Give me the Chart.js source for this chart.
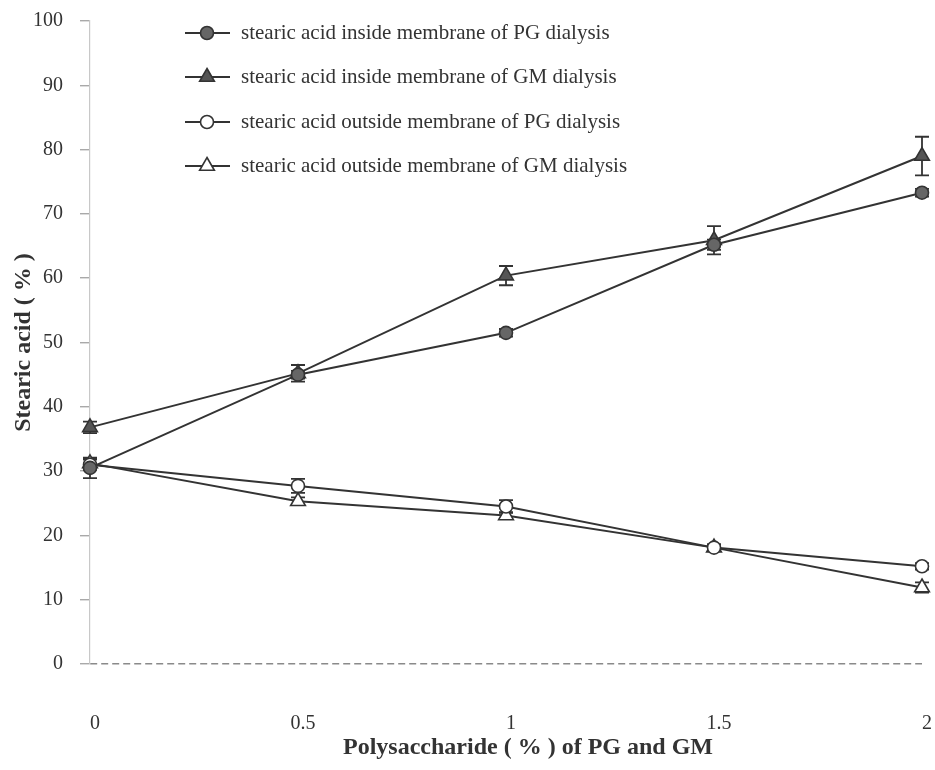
<!DOCTYPE html>
<html>
<head>
<meta charset="utf-8">
<script src="https://cdn.jsdelivr.net/npm/chart.js@4/dist/chart.umd.min.js"></script>
<style>
  html, body { margin: 0; padding: 0; background: #fff; overflow: hidden; }
  #wrap { width: 935px; height: 770px; position: relative; }
  canvas { display: block; }
</style>
</head>
<body>
<div id="wrap"><canvas id="c"></canvas></div>
<script>
// Polysaccharide concentration (%) on the x axis
const concentrations = [0, 0.5, 1, 1.5, 2];
const xTickLabels = ['0', '0.5', '1', '1.5', '2'];

// Stearic acid (%) per series, with standard deviation
const pgInside     = [30.5, 45.0, 51.5, 65.2, 73.3];
const pgInsideErr  = [1.6, 0.6, 0.6, 0.8, 0.6];
const gmInside     = [36.8, 45.2, 60.4, 65.9, 79.0];
const gmInsideErr  = [0.9, 1.3, 1.5, 2.2, 3.0];
const pgOutside    = [31.0, 27.7, 24.5, 18.1, 15.2];
const pgOutsideErr = [0.8, 1.1, 1.0, 0.5, 0.5];
const gmOutside    = [31.2, 25.3, 23.1, 18.1, 11.9];
const gmOutsideErr = [0.8, 0.6, 0.5, 0.5, 0.8];

const seriesNames = [
  'stearic acid inside membrane of PG dialysis',
  'stearic acid inside membrane of GM dialysis',
  'stearic acid outside membrane of PG dialysis',
  'stearic acid outside membrane of GM dialysis'
];
const xTitle = 'Polysaccharide ( % ) of PG and GM';
const yTitle = 'Stearic acid ( % )';

const SERIF = '"Liberation Serif", "Times New Roman", serif';
const INK = '#333333';

function points(values) {
  return concentrations.map((x, i) => ({ x: x, y: values[i] }));
}

function makeSet(label, values, errors, style, fill, radius) {
  return {
    label: label,
    data: points(values),
    errors: errors,
    borderColor: INK,
    borderWidth: 2,
    tension: 0,
    clip: false,
    pointStyle: style,
    pointRadius: radius,
    pointHoverRadius: radius,
    pointBackgroundColor: fill,
    pointBorderColor: INK,
    pointBorderWidth: 1.6
  };
}

const datasets = [
  makeSet(seriesNames[0], pgInside, pgInsideErr, 'circle', '#666666', 6.5),
  makeSet(seriesNames[1], gmInside, gmInsideErr, 'triangle', '#555555', 8.5),
  makeSet(seriesNames[2], pgOutside, pgOutsideErr, 'circle', '#ffffff', 6.5),
  makeSet(seriesNames[3], gmOutside, gmOutsideErr, 'triangle', '#ffffff', 8.5)
];

// Vertical error bars with caps, drawn beneath the markers
const errorBars = {
  id: 'errorBars',
  beforeDatasetsDraw(chart) {
    const { ctx, scales: { x, y } } = chart;
    ctx.save();
    ctx.strokeStyle = INK;
    ctx.lineWidth = 1.8;
    chart.data.datasets.forEach(ds => {
      ds.data.forEach((p, i) => {
        const e = ds.errors[i];
        const px = x.getPixelForValue(p.x);
        const top = y.getPixelForValue(p.y + e);
        const bot = y.getPixelForValue(p.y - e);
        const cap = 7;
        ctx.beginPath();
        ctx.moveTo(px, top); ctx.lineTo(px, bot);
        ctx.moveTo(px - cap, top); ctx.lineTo(px + cap, top);
        ctx.moveTo(px - cap, bot); ctx.lineTo(px + cap, bot);
        ctx.stroke();
      });
    });
    ctx.restore();
  }
};

function marker(ctx, style, cx, cy, r) {
  ctx.beginPath();
  if (style === 'circle') {
    ctx.arc(cx, cy, r, 0, Math.PI * 2);
  } else {
    let a = 0;
    ctx.moveTo(cx + Math.sin(a) * r, cy - Math.cos(a) * r);
    a += Math.PI * 2 / 3;
    ctx.lineTo(cx + Math.sin(a) * r, cy - Math.cos(a) * r);
    a += Math.PI * 2 / 3;
    ctx.lineTo(cx + Math.sin(a) * r, cy - Math.cos(a) * r);
    ctx.closePath();
  }
}

// Line-and-marker legend in the upper left of the plot, plus the x axis title
const lineLegend = {
  id: 'lineLegend',
  afterDraw(chart) {
    const ctx = chart.ctx;
    const rows = [33, 77, 122, 166];
    ctx.save();
    chart.data.datasets.forEach((ds, i) => {
      const yy = rows[i];
      ctx.strokeStyle = INK;
      ctx.lineWidth = 2;
      ctx.beginPath();
      ctx.moveTo(185, yy); ctx.lineTo(230, yy);
      ctx.stroke();
      marker(ctx, ds.pointStyle, 207, yy, ds.pointRadius);
      ctx.fillStyle = ds.pointBackgroundColor;
      ctx.fill();
      ctx.lineWidth = ds.pointBorderWidth;
      ctx.strokeStyle = ds.pointBorderColor;
      ctx.stroke();
      ctx.fillStyle = INK;
      ctx.font = '21px ' + SERIF;
      ctx.textAlign = 'left';
      ctx.textBaseline = 'middle';
      ctx.fillText(ds.label, 241, yy);
    });
    ctx.font = 'bold 24px ' + SERIF;
    ctx.textAlign = 'center';
    ctx.textBaseline = 'middle';
    ctx.fillStyle = INK;
    ctx.fillText(xTitle, 528, 748);
    ctx.restore();
  }
};

new Chart(document.getElementById('c'), {
  type: 'line',
  data: { datasets: datasets },
  plugins: [errorBars, lineLegend],
  options: {
    responsive: true,
    maintainAspectRatio: false,
    animation: false,
    layout: { padding: { top: 21, right: 13, left: 0, bottom: 0 } },
    plugins: { legend: { display: false }, tooltip: { enabled: false } },
    scales: {
      x: {
        type: 'linear',
        min: 0,
        max: 2,
        afterFit(scale) {
          scale.height = 106;
          scale.paddingLeft = 0;
          scale.paddingRight = 0;
        },
        afterBuildTicks(scale) {
          scale.ticks = concentrations.map(v => ({ value: v }));
        },
        ticks: {
          color: INK,
          font: { family: SERIF, size: 20 },
          padding: 48,
          labelOffset: 5,
          maxRotation: 0,
          callback: (v) => xTickLabels[concentrations.indexOf(v)]
        },
        grid: { display: false, drawTicks: false },
        border: { display: false }
      },
      y: {
        min: 0,
        max: 100,
        afterFit(scale) {
          scale.width = 90;
          scale.paddingTop = 0;
          scale.paddingBottom = 0;
        },
        ticks: {
          stepSize: 10,
          color: INK,
          font: { family: SERIF, size: 20 },
          padding: 17
        },
        grid: {
          drawOnChartArea: true,
          color: (c) => (c.tick && c.tick.value === 0 ? '#8a8a8a' : 'rgba(0,0,0,0)'),
          lineWidth: 1.5,
          tickLength: 10,
          tickColor: '#9a9a9a',
          tickWidth: 1.2
        },
        border: { display: true, color: '#c8c8c8', width: 1.2, dash: [7, 4] },
        title: {
          display: true,
          text: yTitle,
          color: INK,
          font: { family: SERIF, size: 24, weight: 'bold' },
          padding: { top: 9, bottom: 0 }
        }
      }
    }
  }
});
</script>
</body>
</html>
